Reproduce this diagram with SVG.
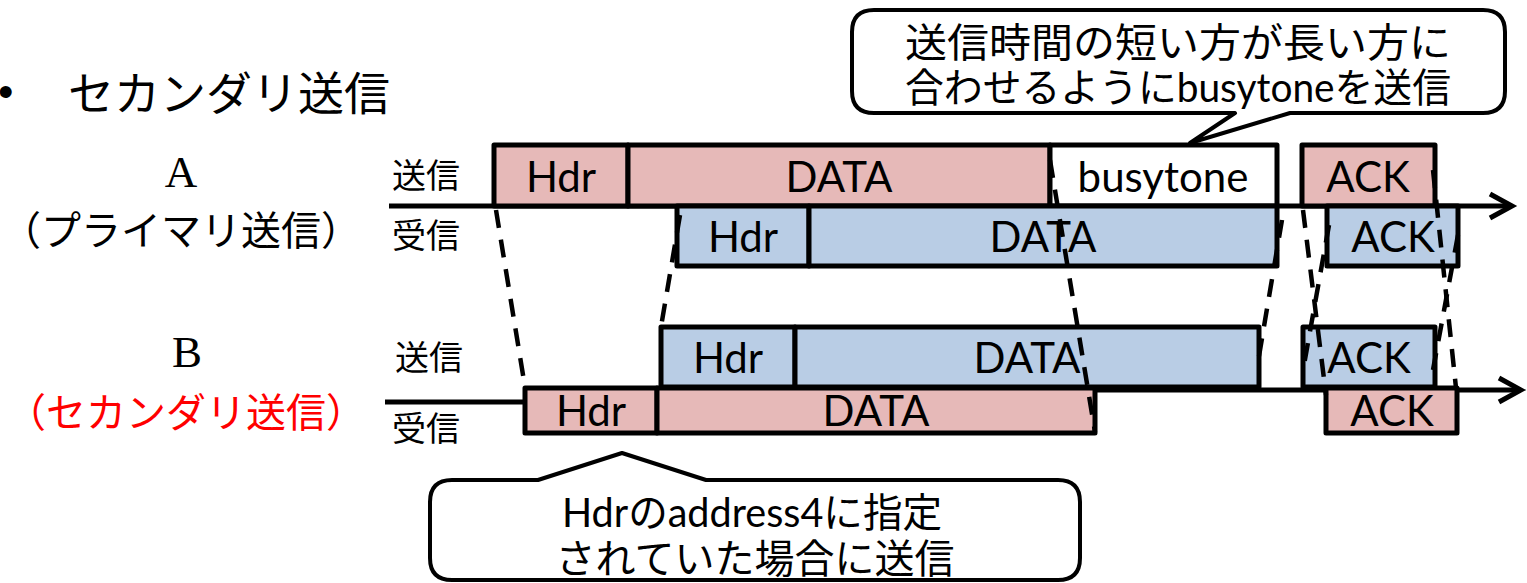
<svg xmlns="http://www.w3.org/2000/svg" width="1527" height="583" viewBox="0 0 1527 583">
<defs>
<style>
.box{stroke:#000;stroke-width:5;stroke-linejoin:round}
.pk{fill:#E6B9B8}
.bl{fill:#B9CDE5}
.wh{fill:#fff}
.lbl{font-family:Lato,"Open Sans",sans-serif;font-size:42px;fill:#000;text-anchor:middle}
.jp{font-family:"Noto Sans CJK JP",sans-serif;fill:#000}
.ser{font-family:"Liberation Serif",serif;font-size:45px;fill:#000;text-anchor:middle}
.axis{stroke:#000;stroke-width:5;fill:none}
.dash{stroke:#000;stroke-width:4.5;stroke-dasharray:18 12;fill:none}
.bub{fill:#fff;stroke:#000;stroke-width:4;stroke-linejoin:round}
.bt{font-family:Lato,"Noto Sans CJK JP",sans-serif;fill:#000;text-anchor:middle}
</style>
<marker id="arr" markerUnits="userSpaceOnUse" markerWidth="30" markerHeight="32" refX="24" refY="14" orient="auto" overflow="visible">
<path d="M2,2 L24,14 L2,26" fill="none" stroke="#000" stroke-width="5" stroke-linejoin="miter"/>
</marker>
</defs>
<rect width="1527" height="583" fill="#fff"/>

<g id="title">
<text x="-2" y="107" font-family="Liberation Sans,sans-serif" font-size="44">•</text>
<text class="jp" x="68" y="110" font-size="46">セカンダリ送信</text>
</g>

<g id="labelA">
<text class="ser" x="181" y="187">A</text>
<text class="jp" x="181" y="245" font-size="40" text-anchor="middle">（プライマリ送信）</text>
</g>
<g id="labelB">
<text class="ser" x="187" y="367">B</text>
<text class="jp" x="186" y="427" font-size="40" text-anchor="middle" style="fill:#FF0000">（セカンダリ送信）</text>
</g>
<g id="lanes">
<text class="jp" x="392" y="188" font-size="34">送信</text>
<text class="jp" x="392" y="248" font-size="34">受信</text>
<text class="jp" x="395" y="370" font-size="34">送信</text>
<text class="jp" x="392" y="441" font-size="34">受信</text>
</g>

<g id="axes">
<line class="axis" x1="389" y1="206" x2="1512" y2="206" marker-end="url(#arr)"/>
<path class="axis" d="M385,402 L530,402 M1090,390 L1521,390" marker-end="url(#arr)"/>
</g>

<g id="A-send">
<g id="A-send-hdr"><rect class="box pk" x="494" y="145" width="134" height="61"/><text class="lbl" x="561" y="192">Hdr</text></g>
<g id="A-send-data"><rect class="box pk" x="628" y="145" width="422" height="61"/><text class="lbl" x="839" y="192">DATA</text></g>
<g id="A-send-busy"><rect class="box wh" x="1050" y="145" width="227" height="61"/><text class="lbl" x="1163" y="192">busytone</text></g>
<g id="A-send-ack"><rect class="box pk" x="1302" y="145" width="133" height="61"/><text class="lbl" x="1368" y="192">ACK</text></g>
</g>
<g id="A-recv">
<g id="A-recv-hdr"><rect class="box bl" x="677" y="206" width="132" height="60"/><text class="lbl" x="743" y="252">Hdr</text></g>
<g id="A-recv-data"><rect class="box bl" x="809" y="206" width="468" height="60"/><text class="lbl" x="1043" y="252">DATA</text></g>
<g id="A-recv-ack"><rect class="box bl" x="1327" y="206" width="131" height="60"/><text class="lbl" x="1393" y="252">ACK</text></g>
</g>
<g id="B-send">
<g id="B-send-hdr"><rect class="box bl" x="661" y="327" width="134" height="60"/><text class="lbl" x="728" y="373">Hdr</text></g>
<g id="B-send-data"><rect class="box bl" x="795" y="327" width="464" height="60"/><text class="lbl" x="1027" y="373">DATA</text></g>
<g id="B-send-ack"><rect class="box bl" x="1303" y="327" width="132" height="60"/><text class="lbl" x="1369" y="373">ACK</text></g>
</g>
<g id="B-recv">
<g id="B-recv-hdr"><rect class="box pk" x="525" y="388" width="132" height="45"/><text class="lbl" x="591" y="426">Hdr</text></g>
<g id="B-recv-data"><rect class="box pk" x="657" y="388" width="438" height="45"/><text class="lbl" x="876" y="426">DATA</text></g>
<g id="B-recv-ack"><rect class="box pk" x="1326" y="388" width="131" height="45"/><text class="lbl" x="1392" y="426">ACK</text></g>
</g>

<g id="connectors">
<line class="dash" x1="496" y1="210" x2="525" y2="387"/>
<line class="dash" x1="680" y1="215" x2="661" y2="327"/>
<line class="dash" x1="1050" y1="160" x2="1095" y2="432"/>
<line class="dash" x1="1282" y1="220" x2="1258" y2="362"/>
<line class="dash" x1="1303" y1="210" x2="1326" y2="395"/>
<line class="dash" x1="1329" y1="225" x2="1304" y2="365"/>
<line class="dash" x1="1433" y1="170" x2="1456" y2="388"/>
<line class="dash" x1="1458" y1="235" x2="1433" y2="370"/>
</g>

<g id="callout-top">
<path class="bub" d="M874,10 H1483 Q1505,10 1505,32 V91 Q1505,113 1483,113 H1290 L1190,143 L1235,113 H874 Q852,113 852,91 V32 Q852,10 874,10 Z"/>
<text class="bt" x="1178" y="57" font-size="40" textLength="546" lengthAdjust="spacingAndGlyphs">送信時間の短い方が長い方に</text>
<text class="bt" x="1178" y="102" font-size="40" textLength="546" lengthAdjust="spacingAndGlyphs">合わせるようにbusytoneを送信</text>
</g>

<g id="callout-bottom">
<path class="bub" d="M452,480 H538 L622,453 L706,480 H1058 Q1080,480 1080,502 V558 Q1080,580 1058,580 H452 Q430,580 430,558 V502 Q430,480 452,480 Z"/>
<text class="bt" x="752" y="527" font-size="40" textLength="380" lengthAdjust="spacingAndGlyphs">Hdrのaddress4に指定</text>
<text class="bt" x="755" y="573" font-size="40">されていた場合に送信</text>
</g>
</svg>
